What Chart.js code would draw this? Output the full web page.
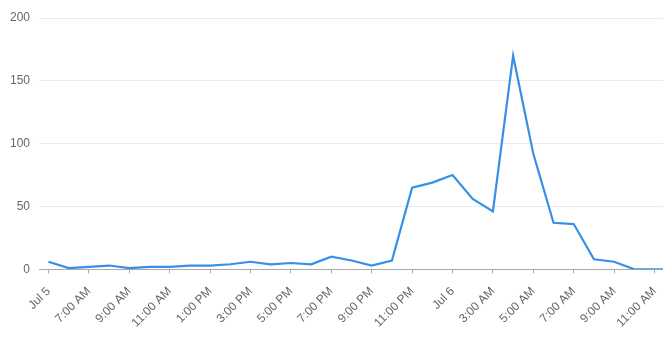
<!DOCTYPE html>
<html>
<head>
<meta charset="utf-8">
<script src="https://cdn.jsdelivr.net/npm/chart.js@4"></script>
<style>
  html, body { margin: 0; padding: 0; background: #fff; overflow: hidden; }
  #wrap { width: 663px; height: 337px; }
</style>
</head>
<body>
<div id="wrap"><canvas id="chart"></canvas></div>
<script>
// hourly buckets, Jul 5 5:00 AM -> Jul 6 12:00 PM
const tickLabels = [
    'Jul 5', '6:00 AM', '7:00 AM', '8:00 AM', '9:00 AM', '10:00 AM', '11:00 AM', '12:00 PM',
    '1:00 PM', '2:00 PM', '3:00 PM', '4:00 PM', '5:00 PM', '6:00 PM', '7:00 PM', '8:00 PM',
    '9:00 PM', '10:00 PM', '11:00 PM', '12:00 AM', 'Jul 6', '2:00 AM', '3:00 AM', '4:00 AM',
    '5:00 AM', '6:00 AM', '7:00 AM', '8:00 AM', '9:00 AM', '10:00 AM', '11:00 AM', '12:00 PM'
];
const counts = [
    6, 1, 2, 3, 1, 2, 2, 3,
    3, 4, 6, 4, 5, 4, 10, 7,
    3, 7, 65, 69, 75, 56, 46, 170,
    92, 37, 36, 8, 6, 0, 0, 0
];
const yTicks = [0, 50, 100, 150, 200];

const points = counts.map(function (v, i) { return { x: i, y: v }; });

const ctx = document.getElementById('chart');
new Chart(ctx, {
    type: 'line',
    data: {
        datasets: [{
            label: 'Count',
            data: points,
            borderColor: '#3690e8',
            backgroundColor: '#3690e8',
            borderWidth: 2.2,
            pointRadius: 0,
            tension: 0,
            fill: false
        }]
    },
    options: {
        responsive: true,
        maintainAspectRatio: false,
        animation: false,
        layout: { padding: { top: 18, left: 1, right: 0, bottom: 0 } },
        plugins: {
            legend: { display: false },
            tooltip: { enabled: false }
        },
        scales: {
            x: {
                type: 'linear',
                min: -0.47,
                max: 30.42,
                afterFit: function (scale) {
                    // let the plot run to the edges like the original
                    scale.paddingLeft = 0;
                    scale.paddingRight = 0;
                    scale.height = 67.7;
                },
                grid: {
                    drawOnChartArea: false,
                    tickLength: 4,
                    color: '#aaa'
                },
                border: { color: '#aaa' },
                ticks: {
                    stepSize: 2,
                    includeBounds: false,
                    autoSkip: false,
                    minRotation: 45,
                    maxRotation: 45,
                    padding: 11,
                    color: '#666',
                    font: { family: 'Liberation Sans', size: 12 },
                    callback: function (v) { return tickLabels[v]; }
                }
            },
            y: {
                min: yTicks[0],
                max: yTicks[yTicks.length - 1],
                grid: { color: '#ebebeb', drawTicks: false },
                border: { display: false },
                ticks: {
                    stepSize: 50,
                    padding: 9,
                    color: '#666',
                    font: { family: 'Liberation Sans', size: 12 }
                }
            }
        }
    }
});
</script>
</body>
</html>
